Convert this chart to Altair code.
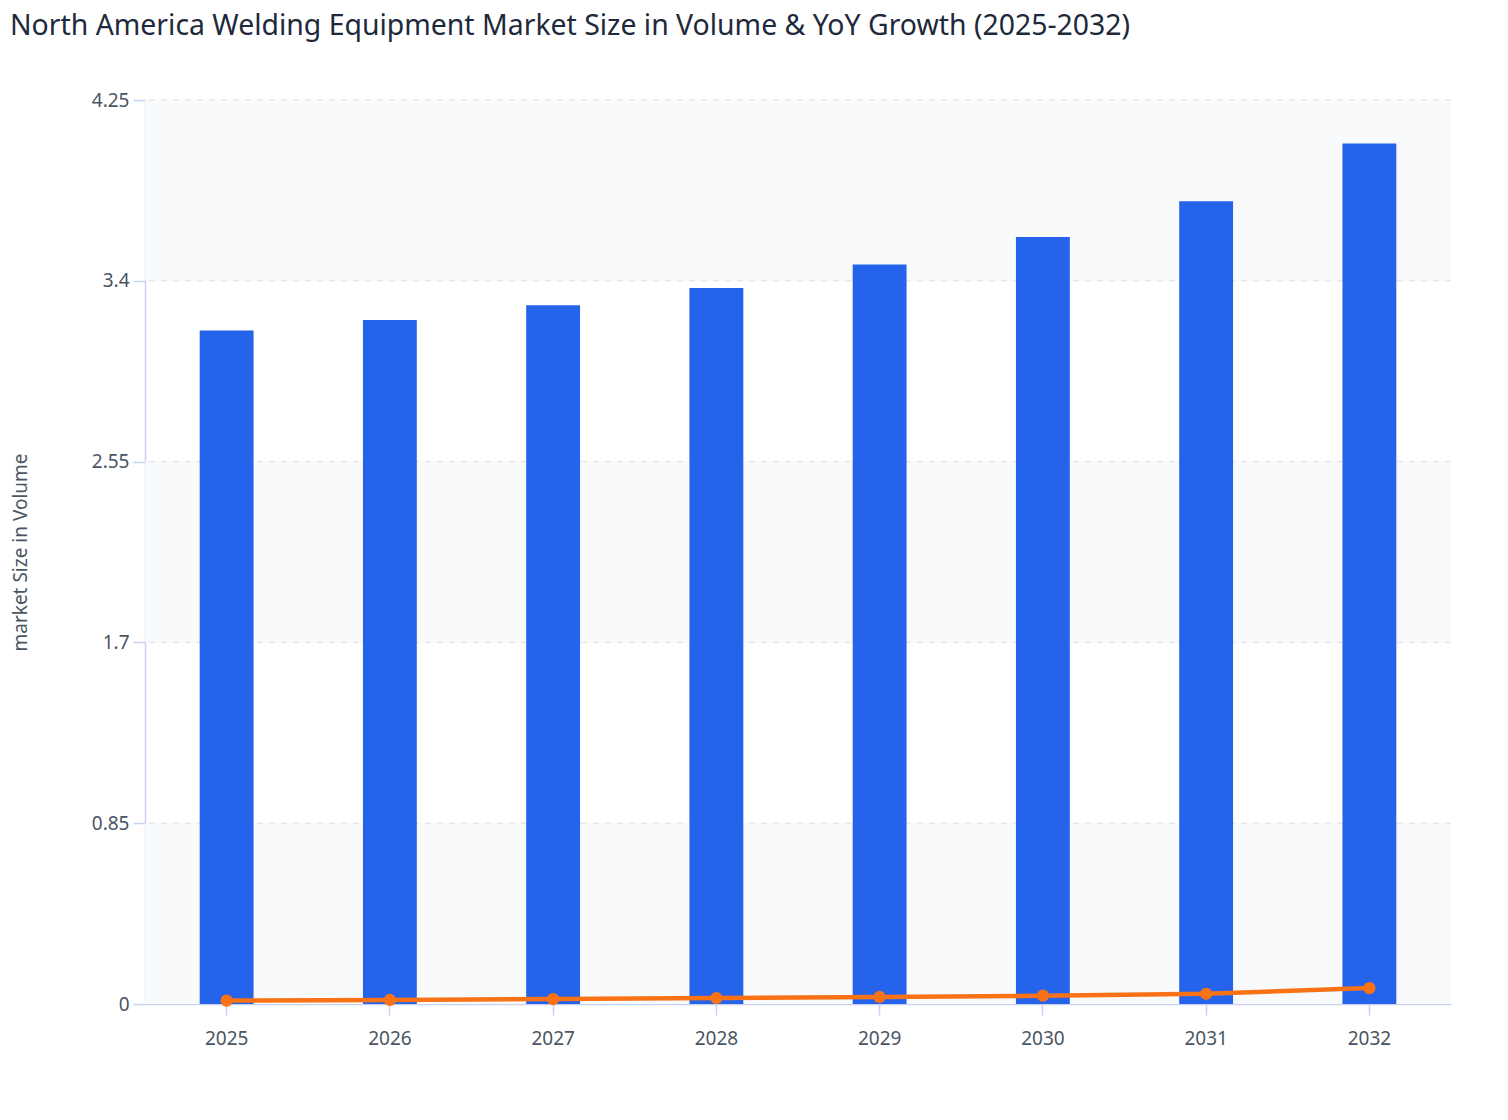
import altair as alt
import pandas as pd

years = ["2025", "2026", "2027", "2028", "2029", "2030", "2031", "2032"]
market_size = [3.166, 3.216, 3.285, 3.366, 3.477, 3.606, 3.774, 4.046]
yoy_growth = [0.016, 0.019, 0.023, 0.028, 0.033, 0.039, 0.048, 0.075]
y_ticks = [0, 0.85, 1.7, 2.55, 3.4, 4.25]

df = pd.DataFrame({"year": years, "size": market_size, "growth": yoy_growth})
bands = pd.DataFrame({"lo": y_ticks[0:-1:2], "hi": y_ticks[1::2]})
grid = pd.DataFrame({"v": y_ticks[1:]})

W, H = 1306, 904
yscale = alt.Scale(domain=[0, 4.25], nice=False)
xscale = alt.Scale(paddingInner=0.67, paddingOuter=0.335)
AXIS_COLOR = "#c7d2f0"
LABEL_COLOR = "#4b5563"

y_axis = alt.Axis(values=y_ticks, format=".3~g", title="market Size in Volume",
                  grid=False, tickSize=12, labelPadding=4,
                  titleX=-125, titleY=H / 2, titleAngle=270,
                  titleAlign="center", titleBaseline="middle")
x_axis = alt.Axis(title=None, labelAngle=0, tickSize=11, labelPadding=14, grid=False)

band_layer = alt.Chart(bands).mark_rect(color="#f8fafc").encode(
    x=alt.value(0), x2=alt.value(W),
    y=alt.Y("lo:Q", scale=yscale, axis=y_axis),
    y2="hi:Q",
)

grid_layer = alt.Chart(grid).mark_rule(
    color="#e5e7eb", strokeWidth=1.5, strokeDash=[6, 6]
).encode(y=alt.Y("v:Q", scale=yscale, axis=y_axis))

bar_layer = alt.Chart(df).mark_bar(color="#2563eb").encode(
    x=alt.X("year:N", scale=xscale, sort=years, axis=x_axis),
    y=alt.Y("size:Q", scale=yscale, axis=y_axis),
)

line_layer = alt.Chart(df).mark_line(
    color="#f97316", strokeWidth=4.5,
    point=alt.OverlayMarkDef(color="#f97316", filled=True, size=150, opacity=1),
).encode(
    x=alt.X("year:N", scale=xscale, sort=years, axis=x_axis),
    y=alt.Y("growth:Q", scale=yscale, axis=y_axis),
)

chart = alt.layer(band_layer, grid_layer, bar_layer, line_layer).properties(
    width=W, height=H,
    autosize=alt.AutoSizeParams(type="none"),
    padding={"left": 137, "top": 92, "right": 40, "bottom": 90},
    title=alt.TitleParams(
        "North America Welding Equipment Market Size in Volume & YoY Growth (2025-2032)",
        anchor="start", dx=-1, offset=28, baseline="alphabetic",
        fontSize=28.4, font="Noto Sans", fontWeight="normal", color="#1e293b",
    ),
).configure_view(stroke=None).configure_axis(
    domainColor=AXIS_COLOR, domainWidth=1.5, tickColor=AXIS_COLOR, tickWidth=1.5,
    labelFont="Noto Sans", labelFontSize=19, labelColor=LABEL_COLOR,
    titleFont="Noto Sans", titleFontSize=19, titleColor=LABEL_COLOR,
    titleFontWeight="normal",
)

chart.save("out.html", embed_options={"renderer": "svg", "actions": False})
